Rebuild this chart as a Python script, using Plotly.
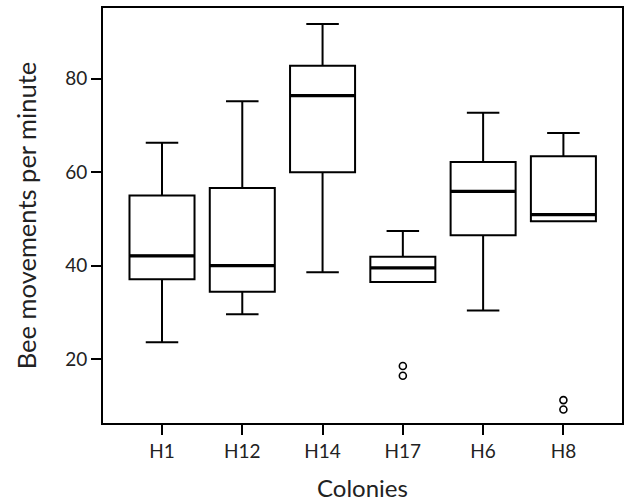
import plotly.graph_objects as go

colonies = ["H1", "H12", "H14", "H17", "H6", "H8"]
lower_whisker = [23.6, 29.6, 38.6, 36.5, 30.4, 49.5]
q1_vals = [37.1, 34.4, 60.0, 36.5, 46.5, 49.5]
median_vals = [42.1, 40.0, 76.4, 39.5, 55.9, 50.9]
q3_vals = [55.0, 56.6, 82.8, 41.9, 62.2, 63.4]
upper_whisker = [66.3, 75.2, 91.7, 47.4, 72.7, 68.4]

outlier_colony = ["H17", "H17", "H8", "H8"]
outlier_vals = [18.5, 16.4, 11.2, 9.2]

y_ticks = [20, 40, 60, 80]

FONT = "Lato"
TXT = "#222222"
BOX_W = 0.81

pos = list(range(len(colonies)))

fig = go.Figure()
fig.add_trace(go.Box(
    x=pos,
    q1=q1_vals,
    median=median_vals,
    q3=q3_vals,
    lowerfence=lower_whisker,
    upperfence=upper_whisker,
    fillcolor="white",
    line=dict(color="black", width=2),
    whiskerwidth=0.5,
    width=BOX_W,
    boxpoints=False,
    showlegend=False,
    hoverinfo="skip",
))

# thicker median bars drawn over the boxes
mx, my = [], []
for i, m in zip(pos, median_vals):
    mx += [i - BOX_W / 2, i + BOX_W / 2, None]
    my += [m, m, None]
fig.add_trace(go.Scatter(
    x=mx, y=my, mode="lines",
    line=dict(color="black", width=3.2),
    showlegend=False, hoverinfo="skip",
))

fig.add_trace(go.Scatter(
    x=[colonies.index(c) for c in outlier_colony],
    y=outlier_vals,
    mode="markers",
    marker=dict(symbol="circle-open", size=7, color="black", line=dict(width=1.6)),
    showlegend=False,
))

fig.update_layout(
    width=627,
    height=503,
    margin=dict(l=103, r=3, t=8, b=80),
    paper_bgcolor="white",
    plot_bgcolor="white",
    font=dict(family=FONT, size=19, color=TXT),
    xaxis=dict(
        tickvals=pos,
        ticktext=colonies,
        range=[-0.735, 5.73],
        showgrid=False,
        zeroline=False,
        showline=True,
        linecolor="black",
        linewidth=2,
        mirror=True,
        ticks="outside",
        ticklen=10,
        tickwidth=2,
        tickcolor="black",
        tickfont=dict(family=FONT, size=19, color=TXT),
        title=dict(text="Colonies", font=dict(family=FONT, size=24, color=TXT), standoff=19),
    ),
    yaxis=dict(
        range=[6.3, 95.15],
        tickvals=y_ticks,
        showgrid=False,
        zeroline=False,
        showline=True,
        linecolor="black",
        linewidth=2,
        mirror=True,
        ticks="outside",
        ticklen=10,
        tickwidth=2,
        tickcolor="black",
        tickfont=dict(family=FONT, size=19, color=TXT),
        title=dict(text="Bee movements per minute", font=dict(family=FONT, size=25.5, color=TXT), standoff=21),
    ),
)

fig.write_html(
    "out.html",
    config={"displayModeBar": False},
    post_script="document.body.style.margin='0';document.body.style.overflow='hidden';",
)
